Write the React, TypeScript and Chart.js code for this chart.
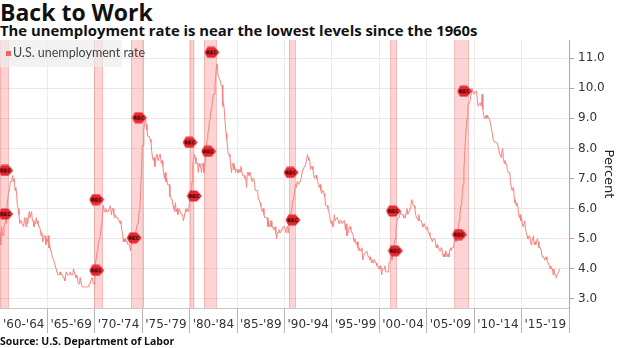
import React, { useEffect, useRef } from "react";
import { Chart, registerables } from "chart.js";

Chart.register(...registerables);

// ---------- DATA ----------
const startYear = 1960;

const rate1960s = [
  5.2, 4.8, 5.4, 5.2, 5.1, 5.4, 5.5, 5.6, 5.5, 6.1, 6.1, 6.6,
  6.6, 6.9, 6.9, 7.0, 7.1, 6.9, 7.0, 6.6, 6.7, 6.5, 6.1, 6.0,
  5.8, 5.5, 5.6, 5.6, 5.5, 5.5, 5.4, 5.7, 5.6, 5.4, 5.7, 5.5,
  5.7, 5.9, 5.7, 5.7, 5.9, 5.6, 5.6, 5.4, 5.5, 5.5, 5.7, 5.5,
  5.6, 5.4, 5.4, 5.3, 5.1, 5.2, 4.9, 5.0, 5.1, 5.1, 4.8, 5.0,
  4.9, 5.1, 4.7, 4.8, 4.6, 4.6, 4.4, 4.4, 4.3, 4.2, 4.1, 4.0,
  4.0, 3.8, 3.8, 3.8, 3.9, 3.8, 3.8, 3.8, 3.7, 3.7, 3.6, 3.8,
  3.9, 3.8, 3.8, 3.8, 3.8, 3.9, 3.8, 3.8, 3.8, 4.0, 3.9, 3.8,
  3.7, 3.8, 3.7, 3.5, 3.5, 3.7, 3.7, 3.5, 3.4, 3.4, 3.4, 3.4,
  3.4, 3.4, 3.4, 3.4, 3.4, 3.5, 3.5, 3.5, 3.7, 3.7, 3.5, 3.5,
];

const rate1970s = [
  3.9, 4.2, 4.4, 4.6, 4.8, 4.9, 5.0, 5.1, 5.4, 5.5, 5.9, 6.1,
  5.9, 5.9, 6.0, 5.9, 5.9, 5.9, 6.0, 6.1, 6.0, 5.8, 6.0, 6.0,
  5.8, 5.7, 5.8, 5.7, 5.7, 5.7, 5.6, 5.6, 5.5, 5.6, 5.3, 5.2,
  4.9, 5.0, 4.9, 5.0, 4.9, 4.9, 4.8, 4.8, 4.8, 4.6, 4.8, 4.9,
  5.1, 5.2, 5.1, 5.1, 5.1, 5.4, 5.5, 5.5, 5.9, 6.0, 6.6, 7.2,
  8.1, 8.1, 8.6, 8.8, 9.0, 8.8, 8.6, 8.4, 8.4, 8.4, 8.3, 8.2,
  7.9, 7.7, 7.6, 7.7, 7.4, 7.6, 7.8, 7.8, 7.6, 7.7, 7.8, 7.8,
  7.5, 7.6, 7.4, 7.2, 7.0, 7.2, 6.9, 7.0, 6.8, 6.8, 6.8, 6.4,
  6.4, 6.3, 6.3, 6.1, 6.0, 5.9, 6.2, 5.9, 6.0, 5.8, 5.9, 6.0,
  5.9, 5.9, 5.8, 5.8, 5.6, 5.7, 5.7, 6.0, 5.9, 6.0, 5.9, 6.0,
];

const rate1980s = [
  6.3, 6.3, 6.3, 6.9, 7.5, 7.6, 7.8, 7.7, 7.5, 7.5, 7.5, 7.2,
  7.5, 7.4, 7.4, 7.2, 7.5, 7.5, 7.2, 7.4, 7.6, 7.9, 8.3, 8.5,
  8.6, 8.9, 9.0, 9.3, 9.4, 9.6, 9.8, 9.8, 10.1, 10.4, 10.8, 10.8,
  10.4, 10.4, 10.3, 10.2, 10.1, 10.1, 9.4, 9.5, 9.2, 8.8, 8.5, 8.3,
  8.0, 7.8, 7.8, 7.7, 7.4, 7.2, 7.5, 7.5, 7.3, 7.4, 7.2, 7.3,
  7.3, 7.2, 7.2, 7.3, 7.2, 7.4, 7.4, 7.1, 7.1, 7.1, 7.0, 7.0,
  6.7, 7.2, 7.2, 7.1, 7.2, 7.2, 7.0, 6.9, 7.0, 7.0, 6.9, 6.6,
  6.6, 6.6, 6.6, 6.3, 6.3, 6.2, 6.1, 6.0, 5.9, 6.0, 5.8, 5.7,
  5.7, 5.7, 5.7, 5.4, 5.6, 5.4, 5.4, 5.6, 5.4, 5.4, 5.3, 5.3,
  5.4, 5.2, 5.0, 5.2, 5.2, 5.3, 5.2, 5.2, 5.3, 5.3, 5.4, 5.4,
];

const rate1990s = [
  5.4, 5.3, 5.2, 5.4, 5.4, 5.2, 5.5, 5.7, 5.9, 5.9, 6.2, 6.3,
  6.4, 6.6, 6.8, 6.7, 6.9, 6.9, 6.8, 6.9, 6.9, 7.0, 7.0, 7.3,
  7.3, 7.4, 7.4, 7.4, 7.6, 7.8, 7.7, 7.6, 7.6, 7.3, 7.4, 7.4,
  7.3, 7.1, 7.0, 7.1, 7.1, 7.0, 6.9, 6.8, 6.7, 6.8, 6.6, 6.5,
  6.6, 6.6, 6.5, 6.4, 6.1, 6.1, 6.1, 6.0, 5.9, 5.8, 5.6, 5.5,
  5.6, 5.4, 5.4, 5.8, 5.6, 5.6, 5.7, 5.7, 5.6, 5.5, 5.6, 5.6,
  5.6, 5.5, 5.5, 5.6, 5.6, 5.3, 5.5, 5.1, 5.2, 5.2, 5.4, 5.4,
  5.3, 5.2, 5.2, 5.1, 4.9, 5.0, 4.9, 4.8, 4.9, 4.7, 4.6, 4.7,
  4.6, 4.6, 4.7, 4.3, 4.4, 4.5, 4.5, 4.5, 4.6, 4.5, 4.4, 4.4,
  4.3, 4.4, 4.2, 4.3, 4.2, 4.3, 4.3, 4.2, 4.2, 4.1, 4.1, 4.0,
];

const rate2000s = [
  4.0, 4.1, 4.0, 3.8, 4.0, 4.0, 4.0, 4.1, 3.9, 3.9, 3.9, 3.9,
  4.2, 4.2, 4.3, 4.4, 4.3, 4.5, 4.6, 4.9, 5.0, 5.3, 5.5, 5.7,
  5.7, 5.7, 5.7, 5.9, 5.8, 5.8, 5.8, 5.7, 5.7, 5.7, 5.9, 6.0,
  5.8, 5.9, 5.9, 6.0, 6.1, 6.3, 6.2, 6.1, 6.1, 6.0, 5.8, 5.7,
  5.7, 5.6, 5.8, 5.6, 5.6, 5.6, 5.5, 5.4, 5.4, 5.5, 5.4, 5.4,
  5.3, 5.4, 5.2, 5.2, 5.1, 5.0, 5.0, 4.9, 5.0, 5.0, 5.0, 4.9,
  4.7, 4.8, 4.7, 4.7, 4.6, 4.6, 4.7, 4.7, 4.5, 4.4, 4.5, 4.4,
  4.6, 4.5, 4.4, 4.5, 4.4, 4.6, 4.7, 4.6, 4.7, 4.7, 4.7, 5.0,
  5.0, 4.9, 5.1, 5.0, 5.4, 5.6, 5.8, 6.1, 6.1, 6.5, 6.8, 7.3,
  7.8, 8.3, 8.7, 9.0, 9.4, 9.5, 9.5, 9.6, 9.8, 10.0, 9.9, 9.9,
];

const rate2010s = [
  9.8, 9.8, 9.9, 9.9, 9.6, 9.4, 9.4, 9.5, 9.5, 9.4, 9.8, 9.3,
  9.1, 9.0, 9.0, 9.1, 9.0, 9.1, 9.0, 9.0, 9.0, 8.8, 8.6, 8.5,
  8.3, 8.3, 8.2, 8.2, 8.2, 8.2, 8.2, 8.0, 7.8, 7.8, 7.7, 7.9,
  8.0, 7.7, 7.5, 7.6, 7.5, 7.5, 7.3, 7.2, 7.2, 7.2, 6.9, 6.7,
  6.6, 6.7, 6.7, 6.2, 6.3, 6.1, 6.2, 6.1, 5.9, 5.7, 5.8, 5.6,
  5.7, 5.5, 5.4, 5.4, 5.6, 5.3, 5.2, 5.1, 5.0, 5.0, 5.1, 5.0,
  4.8, 4.9, 5.0, 5.1, 4.8, 4.9, 4.8, 4.9, 5.0, 4.9, 4.7, 4.7,
  4.7, 4.6, 4.4, 4.4, 4.4, 4.3, 4.3, 4.4, 4.3, 4.2, 4.2, 4.1,
  4.0, 4.1, 4.0, 4.0, 3.8, 4.0, 3.8, 3.8, 3.7, 3.8, 3.8, 3.9,
  4.0,
];

const recessionStarts = [1960.0, 1969.92, 1973.83, 1980.0, 1981.5, 1990.5, 2001.17, 2007.92];
const recessionEnds = [1960.9, 1970.83, 1975.17, 1980.5, 1982.83, 1991.17, 2001.83, 2009.42];

const markerYears = [1960.6, 1960.6, 1970.2, 1970.2, 1974.15, 1974.7, 1980.05, 1980.5, 1982.0, 1982.35, 1990.7, 1990.9, 2001.5, 2001.7, 2008.45, 2009.0];
const markerValues = [7.27, 5.82, 3.95, 6.3, 5.03, 9.02, 8.2, 6.42, 7.9, 11.19, 7.2, 5.62, 5.92, 4.6, 5.14, 9.9];

const xTickCenters = [1962.5, 1967.5, 1972.5, 1977.5, 1982.5, 1987.5, 1992.5, 1997.5, 2002.5, 2007.5, 2012.5, 2017.5];
const xTickLabels = ["'60-'64", "'65-'69", "'70-'74", "'75-'79", "'80-'84", "'85-'89", "'90-'94", "'95-'99", "'00-'04", "'05-'09", "'10-'14", "'15-'19"];
const yTicks = [3, 4, 5, 6, 7, 8, 9, 10, 11];

const seriesLabel = "U.S. unemployment rate";
const titleText = "Back to Work";
const subtitleText = "The unemployment rate is near the lowest levels since the 1960s";
const sourceText = "Source: U.S. Department of Labor";

// ---------- STYLES ----------
const LINE_COLOR = "#f4837e";
const AXIS_PINK = "#f08a8a";
const TEXT_FONT = "'DejaVu Sans', sans-serif";
const HEAD_FONT = "'Open Sans', Lato, sans-serif";

function makeMarker(): HTMLCanvasElement {
  const c = document.createElement("canvas");
  c.width = 16;
  c.height = 12;
  const g = c.getContext("2d")!;
  g.beginPath();
  g.moveTo(0.5, 6);
  g.lineTo(3.5, 0.5);
  g.lineTo(10.5, 0.5);
  g.lineTo(15.5, 6);
  g.lineTo(10.5, 11.5);
  g.lineTo(3.5, 11.5);
  g.closePath();
  g.fillStyle = "#e5292f";
  g.fill();
  g.fillStyle = "#2a0000";
  g.font = "bold 5px 'DejaVu Sans'";
  g.textAlign = "center";
  g.textBaseline = "middle";
  g.fillText("REC", 7.6, 6.3);
  return c;
}

const bandsPlugin = {
  id: "recessionBands",
  beforeDatasetsDraw(chart: any) {
    const { ctx, chartArea, scales } = chart;
    const xs = scales.x;
    ctx.save();
    recessionStarts.forEach((s, i) => {
      const x0 = xs.getPixelForValue(s);
      const x1 = xs.getPixelForValue(recessionEnds[i]);
      ctx.fillStyle = "rgba(248, 120, 120, 0.33)";
      ctx.fillRect(x0, chartArea.top, x1 - x0, chartArea.bottom - chartArea.top);
      ctx.strokeStyle = "rgba(240, 110, 110, 0.35)";
      ctx.lineWidth = 1;
      ctx.beginPath();
      ctx.moveTo(Math.round(x0) + 0.5, chartArea.top);
      ctx.lineTo(Math.round(x0) + 0.5, chartArea.bottom);
      ctx.moveTo(Math.round(x1) - 0.5, chartArea.top);
      ctx.lineTo(Math.round(x1) - 0.5, chartArea.bottom);
      ctx.stroke();
    });
    ctx.restore();
  },
};

export default function App() {
  const canvasRef = useRef<HTMLCanvasElement | null>(null);

  useEffect(() => {
    const allRates = [...rate1960s, ...rate1970s, ...rate1980s, ...rate1990s, ...rate2000s, ...rate2010s];
    const lineData = allRates.map((v, i) => ({ x: startYear + i / 12, y: v }));
    const markerData = markerYears.map((yr, i) => ({ x: yr, y: markerValues[i] }));
    const marker = makeMarker();

    const chart = new Chart(canvasRef.current!, {
      type: "line",
      data: {
        datasets: [
          {
            label: "REC",
            data: markerData,
            showLine: false,
            pointStyle: marker as any,
            pointRadius: 7,
            clip: false,
            order: 0,
          },
          {
            label: seriesLabel,
            data: lineData,
            borderColor: LINE_COLOR,
            borderWidth: 1,
            pointRadius: 0,
            tension: 0,
            order: 1,
          },
        ],
      },
      options: {
        animation: false,
        responsive: true,
        maintainAspectRatio: false,
        layout: { padding: 0, autoPadding: false },
        plugins: {
          legend: { display: false },
          title: { display: false },
          tooltip: { enabled: false },
        },
        scales: {
          x: {
            type: "linear",
            min: 1960,
            max: 2020,
            afterBuildTicks: (s: any) => {
              s.ticks = xTickCenters.map((v) => ({ value: v }));
            },
            afterFit: (s: any) => {
              s.height = 28;
              s.paddingLeft = 0;
              s.paddingRight = 0;
            },
            ticks: {
              autoSkip: false,
              maxRotation: 0,
              padding: -15,
              color: "#333",
              font: { family: TEXT_FONT, size: 12 },
              callback: (_v: any, i: number) => xTickLabels[i],
            },
            grid: {
              offset: true,
              color: "#ebebeb",
              tickColor: "#b5b5b5",
              tickLength: 25,
            },
            border: { color: "#c8c8c8" },
          },
          y: {
            type: "linear",
            position: "right",
            min: 2.7,
            max: 11.6,
            afterBuildTicks: (s: any) => {
              s.ticks = yTicks.map((v) => ({ value: v }));
            },
            afterFit: (s: any) => {
              s.width = 51;
              s.paddingTop = 0;
              s.paddingBottom = 0;
            },
            ticks: {
              padding: 4,
              color: "#333",
              font: { family: TEXT_FONT, size: 12 },
              callback: (v: any) => Number(v).toFixed(1),
            },
            grid: {
              color: "#e8e8e8",
              tickColor: AXIS_PINK,
              tickLength: 5,
            },
            border: { color: AXIS_PINK },
            title: {
              display: true,
              text: "Percent",
              color: "#222",
              padding: 4,
              font: { family: TEXT_FONT, size: 13 },
            },
          },
        },
      },
      plugins: [bandsPlugin],
    });
    return () => chart.destroy();
  }, []);

  return (
    <div
      style={{
        position: "fixed",
        left: 0,
        top: 0,
        width: 620,
        height: 348,
        background: "#fff",
        overflow: "hidden",
      }}
    >
      <div
        style={{
          position: "absolute",
          left: 0,
          top: -1,
          font: `700 23px ${HEAD_FONT}`,
          lineHeight: "26px",
          color: "#111",
          whiteSpace: "nowrap",
        }}
      >
        {titleText}
      </div>
      <div
        style={{
          position: "absolute",
          left: 0,
          top: 21,
          font: `700 14.85px ${HEAD_FONT}`,
          lineHeight: "19px",
          color: "#111",
          whiteSpace: "nowrap",
        }}
      >
        {subtitleText}
      </div>
      <div style={{ position: "absolute", left: 0, top: 40, width: 620, height: 296 }}>
        <canvas ref={canvasRef} />
      </div>
      <div
        style={{
          position: "absolute",
          left: 0,
          top: 40,
          width: 122,
          height: 27,
          background: "rgba(236,236,236,0.7)",
        }}
      >
        <div
          style={{
            position: "absolute",
            left: 6,
            top: 11,
            width: 5,
            height: 5,
            background: "#f06464",
          }}
        />
        <div
          style={{
            position: "absolute",
            left: 13,
            top: 6,
            font: `400 12.5px Lato, sans-serif`,
            lineHeight: "14px",
            color: "#444",
            whiteSpace: "nowrap",
          }}
        >
          {seriesLabel}
        </div>
      </div>
      <div
        style={{
          position: "absolute",
          left: 0,
          top: 334,
          font: `700 10.5px ${HEAD_FONT}`,
          lineHeight: "14px",
          color: "#111",
          whiteSpace: "nowrap",
        }}
      >
        {sourceText}
      </div>
    </div>
  );
}
